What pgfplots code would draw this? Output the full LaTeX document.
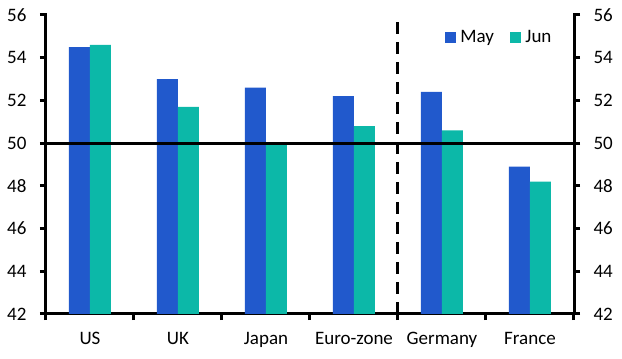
\documentclass[border=0pt]{standalone}
\usepackage{pgfplots}
\pgfplotsset{compat=1.18}
\usepackage{fontspec}
\setmainfont{Carlito}
\definecolor{mayblue}{RGB}{33,89,204}
\definecolor{junteal}{RGB}{12,184,168}
\begin{document}
\begin{tikzpicture}[font=\fontsize{19}{22}\selectfont]
\pgfplotsset{
  common/.style={
    scale only axis, width=528pt, height=299pt, at={(0,0)}, anchor=south west,
    xmin=-0.5, xmax=5.5, ymin=42, ymax=56, ytick={42,44,...,56},
    /pgf/number format/assume math mode=true,
    tick align=outside, major tick length=6pt, minor tick length=6pt,
    axis line style={line width=3pt, line cap=rect},
    every tick/.style={black, line width=3pt},
    tick label style={font=\fontsize{19}{22}\selectfont},
  }
}
\begin{axis}[common,
  axis y line*=left, axis x line*=bottom,
  xtick={0,...,5},
  xticklabels={US,UK,Japan,Euro-zone,Germany,France},
  minor xtick={-0.5,0.5,...,5.5},
  major x tick style={draw=none},
  yticklabel style={xshift=-10pt},
  xticklabel style={yshift=-9pt},
  legend image code/.code={\fill[#1] (0pt,-5.5pt) rectangle (11.5pt,5.5pt);},
  legend style={draw=none, fill=none, at={(0.971,0.963)}, anchor=north east,
    legend columns=2, font=\fontsize{19}{22}\selectfont,
    nodes={inner xsep=4pt},
    /tikz/every even column/.append style={column sep=12pt}},
]
\addplot[ybar, bar width=21pt, bar shift=-10.5pt, fill=mayblue, draw=none]
  coordinates {(0,54.5)(1,53.0)(2,52.6)(3,52.2)(4,52.4)(5,48.9)};
\addlegendentry{May}
\addplot[ybar, bar width=21pt, bar shift=10.5pt, fill=junteal, draw=none]
  coordinates {(0,54.6)(1,51.7)(2,50.0)(3,50.8)(4,50.6)(5,48.2)};
\addlegendentry{Jun}
\addplot[black, line width=3pt, forget plot] coordinates {(-0.5,50)(5.5,50)};
\addplot[black, line width=3pt, dash pattern=on 12pt off 8pt, forget plot] coordinates {(3.5,42)(3.5,56)};
\end{axis}
\begin{axis}[common,
  axis y line*=right, axis x line=none,
  yticklabel style={xshift=10pt},
]
\end{axis}
\pgfresetboundingbox
\path[use as bounding box] (-46pt,-45pt) rectangle (576pt,314pt);
\end{tikzpicture}
\end{document}
